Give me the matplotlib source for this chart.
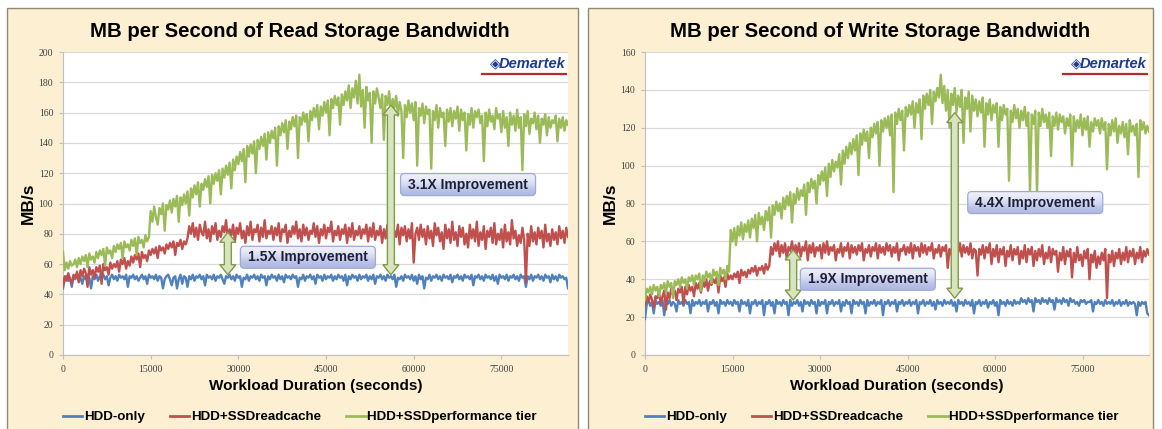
import matplotlib
matplotlib.use("Agg")
import matplotlib.pyplot as plt
from matplotlib.patches import Rectangle, Polygon, FancyBboxPatch
from matplotlib.colors import LinearSegmentedColormap

plt.rcParams['font.family'] = ['Liberation Sans', 'DejaVu Sans']

# one sample every 300 s over the 24 h run
time_s = list(range(0, 86401, 300))

read_hdd = [44, 50, 52, 49, 51, 45, 52, 50, 53, 49,
            51, 47, 52, 50, 53, 51, 44, 52, 50, 53,
            49, 52, 51, 53, 50, 52, 46, 51, 53, 50,
            52, 49, 53, 51, 52, 50, 53, 45, 52, 51,
            53, 50, 52, 49, 51, 53, 50, 52, 47, 53,
            51, 52, 50, 53, 49, 52, 51, 44, 50, 52,
            53, 50, 46, 51, 52, 44, 50, 53, 47, 52,
            51, 45, 52, 50, 53, 49, 52, 51, 53, 50,
            52, 46, 53, 51, 52, 50, 53, 49, 52, 51,
            53, 50, 47, 52, 51, 53, 50, 52, 49, 53,
            51, 52, 45, 51, 50, 53, 49, 52, 51, 53,
            50, 52, 49, 53, 51, 52, 46, 52, 50, 53,
            51, 52, 49, 53, 50, 52, 48, 53, 51, 52,
            50, 53, 51, 52, 45, 51, 50, 53, 49, 52,
            51, 53, 50, 52, 47, 53, 51, 52, 49, 53,
            50, 52, 51, 53, 49, 52, 50, 53, 51, 52,
            49, 53, 46, 52, 50, 53, 51, 52, 49, 53,
            50, 52, 51, 53, 49, 52, 50, 53, 47, 52,
            51, 53, 50, 52, 49, 53, 51, 52, 50, 53,
            45, 51, 50, 52, 49, 53, 51, 52, 50, 53,
            49, 52, 47, 53, 50, 52, 44, 51, 50, 53,
            49, 52, 51, 53, 50, 52, 49, 53, 51, 52,
            50, 53, 48, 52, 51, 53, 50, 52, 49, 53,
            51, 52, 50, 53, 46, 52, 51, 53, 50, 52,
            49, 53, 51, 52, 50, 53, 49, 52, 47, 53,
            51, 52, 50, 53, 49, 52, 51, 53, 50, 52,
            49, 53, 51, 52, 45, 52, 50, 53, 49, 52,
            51, 53, 50, 52, 49, 53, 51, 52, 48, 53,
            50, 52, 49, 53, 51, 52, 50, 51, 44]
read_cache = [46, 52, 49, 54, 50, 47, 53, 51, 55, 48,
              56, 52, 57, 54, 45, 58, 53, 56, 51, 58,
              55, 59, 47, 60, 56, 58, 53, 61, 57, 60,
              58, 62, 55, 63, 60, 64, 57, 62, 59, 65,
              61, 66, 63, 67, 58, 68, 64, 66, 62, 69,
              66, 70, 67, 71, 64, 72, 69, 71, 67, 73,
              70, 74, 71, 75, 66, 74, 72, 76, 70, 75,
              73, 77, 85, 80, 87, 78, 84, 76, 86, 81,
              79, 88, 77, 83, 75, 85, 80, 87, 76, 82,
              78, 85, 81, 89, 76, 83, 79, 86, 75, 84,
              80, 87, 77, 82, 74, 85, 79, 88, 76, 83,
              81, 86, 75, 84, 78, 89, 77, 82, 80, 85,
              76, 84, 79, 87, 75, 83, 81, 86, 74, 82,
              78, 85, 80, 88, 77, 83, 75, 86, 79, 84,
              76, 82, 80, 87, 78, 85, 74, 83, 79, 86,
              77, 84, 81, 88, 75, 82, 79, 85, 76, 83,
              80, 86, 74, 84, 78, 87, 76, 82, 79, 85,
              77, 83, 80, 86, 75, 84, 78, 87, 76, 82,
              79, 85, 74, 83, 77, 86, 80, 84, 76, 82,
              78, 86, 73, 84, 79, 85, 75, 83, 77, 87,
              61, 80, 84, 76, 86, 78, 83, 73, 85, 77,
              82, 72, 87, 79, 84, 75, 81, 70, 86, 77,
              83, 74, 88, 76, 81, 72, 85, 78, 84, 73,
              80, 71, 86, 77, 83, 75, 88, 72, 81, 76,
              85, 70, 82, 78, 84, 74, 87, 73, 80, 76,
              83, 71, 86, 75, 81, 73, 89, 77, 82, 72,
              79, 74, 84, 76, 48, 80, 72, 85, 75, 81,
              73, 84, 77, 82, 71, 86, 75, 80, 72, 83,
              76, 81, 73, 85, 77, 82, 74, 84, 78]
read_tier = [68, 56, 61, 57, 62, 59, 60, 63, 58, 64,
             60, 65, 62, 66, 58, 67, 63, 65, 61, 68,
             64, 69, 66, 70, 59, 71, 67, 69, 64, 72,
             68, 73, 70, 74, 64, 75, 71, 73, 69, 76,
             72, 77, 66, 78, 74, 76, 71, 79, 75, 78,
             95, 88, 98, 91, 86, 97, 93, 100, 82, 99,
             96, 102, 94, 103, 98, 105, 88, 104, 99, 106,
             100, 108, 92, 110, 104, 112, 106, 114, 98, 113,
             109, 116, 111, 118, 100, 119, 113, 120, 115, 122,
             106, 123, 117, 125, 119, 127, 110, 129, 122, 131,
             126, 134, 128, 136, 114, 138, 131, 139, 133, 141,
             120, 142, 136, 144, 138, 146, 129, 147, 140, 148,
             143, 150, 125, 151, 145, 153, 147, 155, 136, 154,
             149, 157, 151, 158, 130, 157, 152, 160, 154, 159,
             141, 161, 155, 163, 157, 165, 149, 164, 158, 167,
             160, 168, 145, 169, 163, 171, 165, 170, 152, 172,
             165, 174, 168, 178, 163, 176, 170, 181, 166, 185,
             164, 175, 150, 177, 168, 173, 140, 174, 166, 176,
             170, 163, 172, 142, 171, 165, 174, 160, 169, 163,
             171, 158, 167, 161, 130, 165, 157, 168, 160, 166,
             155, 167, 125, 163, 158, 166, 153, 164, 159, 162,
             123, 161, 155, 165, 150, 163, 157, 160, 138, 162,
             154, 163, 151, 161, 156, 164, 148, 162, 155, 160,
             135, 159, 152, 163, 150, 161, 157, 162, 153, 158,
             128, 160, 151, 162, 154, 158, 149, 163, 156, 159,
             147, 161, 150, 157, 138, 160, 152, 158, 148, 162,
             150, 157, 122, 159, 151, 161, 146, 156, 153, 160,
             149, 158, 140, 156, 152, 159, 145, 157, 150, 155,
             153, 158, 141, 156, 150, 157, 148, 155, 152]

write_hdd = [19, 27, 29, 26, 28, 22, 29, 27, 28, 26,
             29, 21, 28, 27, 29, 26, 28, 27, 23, 29,
             27, 28, 26, 29, 27, 28, 22, 29, 26, 28,
             27, 29, 26, 28, 27, 29, 23, 28, 27, 29,
             26, 28, 22, 29, 27, 28, 26, 29, 27, 28,
             26, 29, 27, 28, 23, 29, 27, 28, 26, 29,
             22, 28, 27, 29, 26, 28, 27, 29, 21, 28,
             27, 29, 26, 28, 22, 29, 27, 28, 26, 29,
             27, 28, 21, 29, 26, 28, 27, 29, 26, 28,
             23, 29, 27, 28, 26, 29, 27, 28, 22, 29,
             26, 28, 27, 29, 22, 28, 27, 29, 26, 28,
             27, 29, 23, 28, 26, 29, 27, 28, 22, 29,
             27, 28, 26, 29, 27, 28, 22, 29, 26, 28,
             27, 29, 26, 28, 27, 29, 21, 28, 27, 29,
             26, 28, 27, 29, 23, 28, 27, 29, 26, 28,
             27, 29, 26, 28, 27, 29, 22, 28, 27, 29,
             26, 28, 27, 29, 26, 28, 24, 29, 27, 28,
             26, 29, 27, 28, 27, 29, 26, 28, 23, 29,
             27, 28, 26, 29, 27, 28, 26, 29, 22, 28,
             27, 29, 26, 28, 27, 29, 25, 28, 27, 29,
             26, 28, 21, 29, 27, 28, 26, 29, 27, 28,
             26, 29, 27, 28, 27, 30, 28, 29, 27, 30,
             28, 29, 23, 30, 28, 29, 27, 30, 28, 29,
             27, 30, 28, 29, 24, 30, 28, 29, 27, 30,
             28, 29, 26, 30, 28, 29, 27, 28, 26, 29,
             28, 29, 27, 28, 28, 29, 23, 28, 27, 29,
             27, 28, 26, 29, 27, 28, 27, 29, 26, 28,
             27, 29, 26, 28, 27, 29, 26, 28, 27, 28,
             27, 21, 28, 26, 28, 27, 28, 22, 21]
write_cache = [26, 31, 28, 32, 29, 25, 31, 30, 33, 27,
               31, 34, 24, 33, 30, 35, 32, 34, 29, 35,
               33, 36, 27, 36, 32, 37, 34, 36, 31, 38,
               35, 38, 33, 39, 36, 40, 34, 39, 37, 40,
               38, 41, 33, 42, 39, 41, 36, 43, 40, 42,
               40, 43, 41, 44, 38, 45, 42, 44, 41, 45,
               43, 46, 44, 47, 42, 46, 45, 47, 43, 48,
               45, 47, 57, 53, 59, 55, 60, 52, 58, 54,
               59, 51, 57, 55, 60, 53, 58, 54, 59, 52,
               57, 55, 60, 50, 58, 54, 59, 52, 57, 55,
               58, 51, 59, 54, 60, 53, 57, 55, 58, 50,
               56, 54, 59, 52, 57, 55, 59, 51, 58, 54,
               57, 53, 58, 55, 59, 50, 56, 54, 58, 52,
               57, 55, 59, 51, 58, 54, 57, 53, 59, 55,
               58, 52, 57, 54, 59, 50, 56, 55, 58, 53,
               57, 54, 59, 51, 58, 55, 57, 52, 59, 54,
               58, 53, 57, 55, 59, 51, 56, 54, 58, 52,
               57, 55, 58, 46, 56, 53, 58, 51, 57, 54,
               59, 52, 58, 54, 57, 53, 59, 51, 56, 55,
               42, 56, 53, 58, 51, 57, 54, 59, 48, 56,
               52, 58, 49, 56, 53, 57, 47, 55, 52, 58,
               50, 56, 53, 57, 48, 55, 51, 58, 49, 56,
               53, 57, 47, 55, 50, 56, 52, 58, 48, 54,
               51, 57, 49, 56, 53, 55, 44, 54, 50, 57,
               48, 55, 52, 56, 41, 54, 49, 57, 50, 53,
               47, 55, 51, 56, 40, 53, 49, 55, 46, 52,
               48, 54, 50, 56, 30, 53, 49, 55, 47, 54,
               51, 56, 48, 54, 50, 57, 49, 55, 52, 56,
               48, 54, 51, 57, 49, 55, 52, 56, 53]
write_tier = [29, 35, 33, 36, 32, 37, 34, 36, 31, 37,
              35, 38, 33, 39, 36, 38, 30, 39, 37, 40,
              36, 41, 38, 40, 35, 41, 39, 42, 37, 42,
              40, 43, 34, 42, 39, 44, 41, 43, 38, 45,
              42, 44, 37, 46, 43, 45, 40, 47, 44, 66,
              60, 67, 58, 68, 63, 70, 61, 69, 65, 71,
              62, 72, 67, 74, 60, 75, 69, 73, 66, 76,
              71, 78, 62, 79, 74, 81, 76, 80, 72, 83,
              77, 84, 79, 86, 70, 85, 80, 88, 82, 87,
              84, 90, 74, 91, 86, 93, 88, 92, 80, 95,
              90, 97, 92, 99, 84, 101, 94, 103, 97, 102,
              99, 106, 90, 108, 101, 110, 104, 112, 106, 114,
              108, 116, 95, 117, 111, 119, 113, 118, 104, 120,
              115, 122, 117, 123, 100, 124, 118, 125, 120, 126,
              116, 127, 86, 128, 122, 130, 124, 129, 108, 131,
              126, 132, 127, 134, 120, 133, 128, 135, 114, 137,
              130, 138, 132, 140, 122, 139, 134, 141, 136, 148,
              133, 142, 129, 140, 120, 138, 132, 141, 128, 137,
              131, 140, 112, 136, 130, 139, 118, 137, 129, 135,
              126, 134, 128, 136, 110, 133, 127, 135, 124, 132,
              128, 133, 110, 131, 124, 132, 127, 130, 92, 129,
              123, 132, 125, 130, 120, 129, 124, 131, 121, 128,
              86, 127, 122, 129, 85, 128, 121, 130, 123, 127,
              120, 128, 105, 126, 121, 128, 119, 127, 123, 126,
              117, 125, 121, 127, 100, 126, 118, 124, 120, 127,
              116, 125, 119, 126, 110, 123, 118, 125, 121, 124,
              117, 125, 119, 123, 98, 122, 116, 124, 118, 125,
              112, 121, 117, 123, 115, 122, 106, 124, 118, 121,
              116, 122, 94, 124, 119, 123, 117, 121, 118]

series_names = ['HDD-only', 'HDD+SSDreadcache', 'HDD+SSDperformance tier']
series_colors = ['#4F81BD', '#C0504D', '#9BBB59']
x_ticks = [0, 15000, 30000, 45000, 60000, 75000]

# (x, low, high, label, label_x, label_y)
read_notes = [(28200, 53, 81, '1.5X Improvement', 41900, 64.5),
              (56100, 53, 165, '3.1X Improvement', 69300, 112.5)]
write_notes = [(25400, 29, 55.5, '1.9X Improvement', 38200, 40),
               (53100, 30, 128, '4.4X Improvement', 66900, 80.5)]

W, H = 1162, 429
fig = plt.figure(figsize=(W / 100, H / 100), dpi=100)
fig.patch.set_facecolor('white')

for x0, x1 in [(7, 578), (588, 1153)]:
    fig.patches.append(Rectangle((x0 / W, -0.01), (x1 - x0) / W, 1 - 8 / H + 0.01,
                                 transform=fig.transFigure, fc='#FCEFD2',
                                 ec='#8E8B72', lw=1, zorder=-5))

box_cmap = LinearSegmentedColormap.from_list('box', ['#EEEFF9', '#D3D8F0', '#AEB8E2'])


def block_arrow(ax, x, y0, y1, px_x, px_y):
    sw, hw, hl = 3.5 * px_x, 8 * px_x, 10 * px_y
    pts = [(x - sw, y0 + hl), (x - hw, y0 + hl), (x, y0), (x + hw, y0 + hl),
           (x + sw, y0 + hl), (x + sw, y1 - hl), (x + hw, y1 - hl), (x, y1),
           (x - hw, y1 - hl), (x - sw, y1 - hl)]
    ax.add_patch(Polygon(pts, closed=True, fc='#D7E4BD', ec='#7F9A48', lw=1, zorder=5))


def label_box(ax, cx, cy, text, px_x, px_y):
    bw, bh = 135 * px_x, 22 * px_y
    box = FancyBboxPatch((cx - bw / 2, cy - bh / 2), bw, bh,
                         boxstyle='round,pad=0,rounding_size=%f' % (4 * px_x),
                         mutation_aspect=px_y / px_x, fc='none', ec='#9EA9D8',
                         lw=0.9, zorder=7)
    ax.add_patch(box)
    img = ax.imshow([[0.0], [0.5], [1.0]], extent=(cx - bw / 2, cx + bw / 2, cy - bh / 2, cy + bh / 2),
                    cmap=box_cmap, aspect='auto', interpolation='bicubic', zorder=6)
    img.set_clip_path(box)
    ax.text(cx, cy, text, ha='center', va='center', fontsize=10, fontweight='bold',
            color='#1F1F3A', zorder=8)


def panel(left_px, width_px, title, title_x, ymax, data, notes):
    ax = fig.add_axes([left_px / W, (H - 355) / H, width_px / W, 303 / H])
    ax.set_facecolor('white')
    for vals, name, col in zip(data, series_names, series_colors):
        ax.plot(time_s, vals, color=col, lw=1.7, label=name, zorder=3)
    ax.set_xticks(x_ticks)
    ax.set_yticks(range(0, ymax + 1, 20))
    ax.grid(axis='y', color='#D9D9D9', lw=0.9, zorder=0)
    ax.set_axisbelow(True)
    for s in ['top', 'right']:
        ax.spines[s].set_visible(False)
    for s in ['left', 'bottom']:
        ax.spines[s].set_color('#BFBFBF')
    ax.tick_params(length=3, color='#BFBFBF', labelsize=7, labelcolor='#404040', pad=4)
    for lab in ax.get_xticklabels() + ax.get_yticklabels():
        lab.set_family('Liberation Serif')
    ax.set_title(title, fontsize=14.7, fontweight='bold', pad=11, color='black', x=title_x)
    ax.set_ylabel('MB/s', fontsize=12.5, fontweight='bold', labelpad=2)
    ax.set_xlabel('Workload Duration (seconds)', fontsize=11, fontweight='bold', labelpad=4)

    px_x = 86400 / width_px
    px_y = ymax / 303
    for x, lo, hi, text, tx, ty in notes:
        block_arrow(ax, x, lo, hi, px_x, px_y)
        label_box(ax, tx, ty, text, px_x, px_y)
    ax.set_xlim(0, 86400)
    ax.set_ylim(0, ymax)

    # logo
    ax.text(0.996, 0.962, 'Demartek', transform=ax.transAxes, ha='right', va='center',
            fontsize=10.5, fontweight='bold', fontstyle='italic', color='#1F3A93', zorder=6)
    ax.text(0.866, 0.962, '\u25C8', transform=ax.transAxes, ha='right', va='center',
            fontsize=10, color='#1F3A93', family='DejaVu Sans', zorder=6)
    ax.plot([0.83, 0.996], [0.928, 0.928], transform=ax.transAxes, color='#C0282D',
            lw=1.6, zorder=6)

    leg = ax.legend(loc='center left', bbox_to_anchor=(0, -0.205), ncol=3, frameon=False,
                    borderaxespad=0, borderpad=0, handlelength=1.45, handletextpad=0.12,
                    columnspacing=1.9, prop={'weight': 'bold', 'size': 9.6})
    for h in leg.get_lines():
        h.set_linewidth(2)
    return ax


panel(63, 505, 'MB per Second of Read Storage Bandwidth', 0.469, 200,
      [read_hdd, read_cache, read_tier], read_notes)
panel(645, 504, 'MB per Second of Write Storage Bandwidth', 0.466, 160,
      [write_hdd, write_cache, write_tier], write_notes)

fig.savefig('out.png', dpi=100, facecolor=fig.get_facecolor())
